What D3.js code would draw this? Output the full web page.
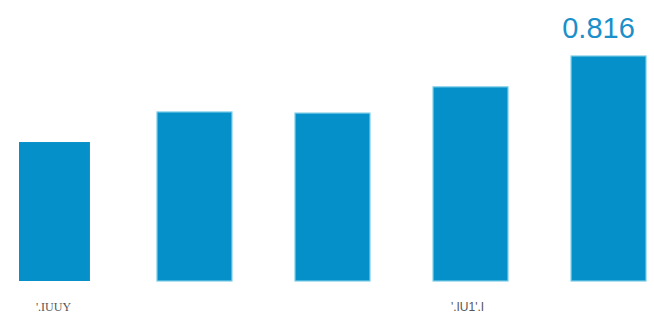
<!DOCTYPE html>
<html>
<head>
<meta charset="utf-8">
<script src="https://cdn.jsdelivr.net/npm/d3@7"></script>
<style>
  html, body { margin: 0; padding: 0; background: #fff; }
  svg { display: block; }
</style>
</head>
<body>
<div id="figure-container"></div>
<script>
// data
var categories = ['c1', 'c2', 'c3', 'c4', 'c5'];
var values = [0.504, 0.613, 0.609, 0.704, 0.816];
var tickLabels = ["'.IUUY", '', '', "'.IU1'.I", ''];
var valueLabels = ['', '', '', '', '0.816'];

var fullWidth = 654;
var fullHeight = 325;

var xScale = d3.scaleBand()
  .domain(categories)
  .range([19, 646])
  .paddingInner(0.457)
  .paddingOuter(0);

var yScale = d3.scaleLinear()
  .domain([0, 0.816])
  .range([281, 56]);

var svg = d3.select('#figure-container')
  .append('svg')
  .attr('width', fullWidth)
  .attr('height', fullHeight);

var bars = svg.append('g')
  .attr('class', 'data-area')
  .selectAll('rect')
  .data(values)
  .enter()
    .append('rect')
    .attr('x', function(d, i) { return xScale(categories[i]); })
    .attr('y', function(d) { return yScale(d); })
    .attr('width', function(d, i) { return i == 0 ? xScale.bandwidth() - 4 : xScale.bandwidth(); })
    .attr('height', function(d) { return yScale(0) - yScale(d); })
    .attr('fill', '#0590c9')
    .attr('stroke', function(d, i) { return i == 0 ? 'none' : '#78cbe6'; })
    .attr('stroke-width', 1.2);

// x axis, no line and no ticks, just the labels
var xAxis = d3.axisBottom(xScale)
  .tickSize(0)
  .tickFormat(function(d, i) { return tickLabels[i]; });

var gx = svg.append('g')
  .attr('class', 'axis x')
  .attr('transform', 'translate(0,' + 299 + ')')
  .call(xAxis);
gx.select('.domain').remove();
gx.selectAll('text')
  .attr('dy', '0.71em')
  .attr('dx', '-3')
  .attr('fill', '#555')
  .style('font-size', '12px')
  .style('font-family', function(d, i) {
    return i == 0 ? '"Liberation Serif", serif' : '"Liberation Sans", Arial, sans-serif';
  });

// value labels on top
svg.append('g')
  .selectAll('text')
  .data(values)
  .enter()
    .append('text')
    .attr('x', function(d, i) { return xScale(categories[i]) + xScale.bandwidth() / 2 - 10; })
    .attr('y', function(d) { return yScale(d) - 18; })
    .attr('text-anchor', 'middle')
    .attr('fill', '#1a8fc9')
    .style('font-family', '"Liberation Sans", Arial, sans-serif')
    .style('font-size', '29px')
    .text(function(d, i) { return valueLabels[i]; });
</script>
</body>
</html>
